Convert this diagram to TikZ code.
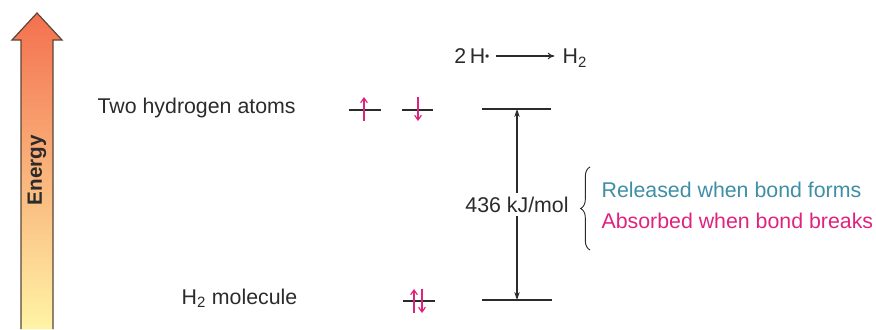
\documentclass[tikz,border=0pt]{standalone}
\usepackage{fontspec}
\setmainfont{Liberation Sans}
\usetikzlibrary{arrows.meta,decorations.pathreplacing}
\definecolor{spincol}{HTML}{E0227F}
\definecolor{relcol}{HTML}{3E8EA6}
\definecolor{abscol}{HTML}{E0227F}
\definecolor{inkcol}{HTML}{2B2B2B}
\definecolor{arrtop}{HTML}{F4704F}
\definecolor{arrmid}{HTML}{F9AE72}
\definecolor{arrbot}{HTML}{FFF4A6}
\definecolor{arredge}{HTML}{5A4636}
\begin{document}
\begin{tikzpicture}[x=0.75pt,y=-0.75pt,
  txt/.style={font=\fontsize{16}{19}\selectfont, text=inkcol, inner sep=1pt},
  level/.style={draw=inkcol, line width=0.9pt},
  orb/.style={draw=inkcol, line width=1.4pt},
  spin/.style={draw=spincol, line width=0.9pt, -{Straight Barb[length=3.5pt,width=5pt]}},
  gap/.style={draw=inkcol, line width=0.9pt, {Stealth[length=6pt,width=4pt]}-{Stealth[length=6pt,width=4pt]}}]
\useasboundingbox (0,0) rectangle (876,329);
% energy arrow
\shade[top color=arrtop, middle color=arrmid, bottom color=arrbot]
  (21,329) -- (21,40) -- (12,40) -- (37,13) -- (62,40) -- (53,40) -- (53,329) -- cycle;
\draw[arredge, line width=0.9pt, line join=miter]
  (21,329) -- (21,40) -- (12,40) -- (37,13) -- (62,40) -- (53,40) -- (53,329);
\node[rotate=90, font=\fontsize{15.5}{17}\selectfont\bfseries, text=inkcol] (energy) at (37,170) {Energy};
% labels
\node[txt, anchor=west] (two) at (96,108) {Two hydrogen atoms};
\node[txt, anchor=west] (mol) at (180,298) {H\textsubscript{2} molecule};
% equation
\node[txt, anchor=east] (lhs) at (491,56) {2\,H\raisebox{0.25ex}{\fontsize{9}{9}\selectfont•}};
\node[txt, anchor=west] (rhs) at (561,58) {H\textsubscript{2}};
\draw[inkcol, line width=0.8pt, -{To[length=5pt,width=5pt]}] (lhs.east) ++(5,0) coordinate (ea) -- ([xshift=-5]rhs.west |- ea) coordinate (eb);
% orbitals
\draw[orb] (349,110) -- (381,110);
\draw[orb] (402,110) -- (433,110);
\draw[orb] (403,301) -- (435,301);
\draw[spin] (364,121) -- (364,97);
\draw[spin] (418,97) -- (418,121);
\draw[spin] (414,313) -- (414,289);
\draw[spin] (422,289) -- (422,313);
% energy levels
\coordinate (upL) at (482,109);
\coordinate (upR) at (551,109);
\coordinate (loL) at (482,300);
\coordinate (loR) at (552,300);
\draw[level] (upL) -- (upR);
\draw[level] (loL) -- (loR);
\coordinate (upM) at (517,109);
\coordinate (loM) at (517,300);
\draw[gap] (upM) -- (loM) node[midway, fill=white, txt, inner sep=3pt] (de) {436 kJ/mol};
% brace
\draw[inkcol, line width=0.7pt, decorate, decoration={brace, amplitude=7pt}] (590,250) -- (590,167);
\node[txt, anchor=west, text=relcol] (rel) at (600,190) {Released when bond forms};
\node[txt, anchor=west, text=abscol] (abs) at (600,221) {Absorbed when bond breaks};
\end{tikzpicture}
\end{document}
